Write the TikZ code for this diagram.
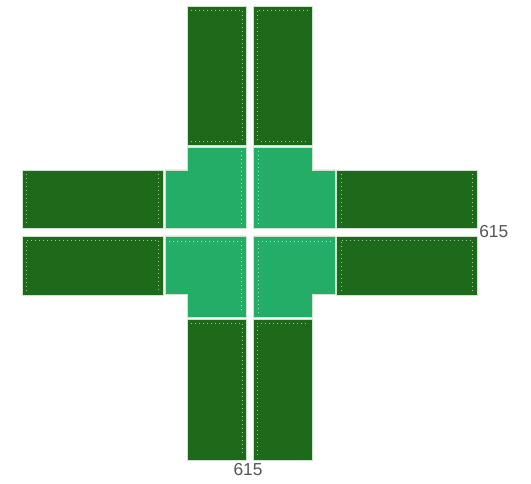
\documentclass[tikz,border=0pt]{standalone}
\usepackage{fontspec}
\setmainfont{Liberation Sans}
\usetikzlibrary{positioning}
\definecolor{LaneDark}{HTML}{1E6A1B}
\definecolor{LaneLight}{HTML}{24AD67}
\definecolor{LaneEdge}{HTML}{CFE3CF}
\definecolor{DimGrey}{HTML}{555555}

\begin{document}
\begin{tikzpicture}[
  x=0.75pt, y=-0.75pt,
  lane/.style={fill=#1, draw=LaneEdge, line width=0.6pt},
  lanemark/.style={draw=white, dash pattern=on 0.6pt off 2.4pt, line width=0.6pt, opacity=0.6},
  dim/.style={font=\fontsize{13}{15}\selectfont, color=DimGrey, inner sep=0pt}
]
\useasboundingbox (0,0) rectangle (531,484);

% North arm
\draw[lane=LaneDark] (187,6) rectangle (246,145);
\draw[lane=LaneDark] (253,6) rectangle (312,145);
\draw[lanemark] (191,10) -- (242,10) -- (242,140);
\draw[lanemark] (257,140) -- (257,10) -- (308,10);
\draw[lanemark] (191,141) -- (238,141);
\draw[lanemark] (261,141) -- (308,141);

% South arm
\draw[lane=LaneDark] (187,319) rectangle (246,460);
\draw[lane=LaneDark] (253,319) rectangle (312,460);
\draw[lanemark] (191,323) -- (242,323) -- (242,455);
\draw[lanemark] (257,455) -- (257,323) -- (308,323);

% West arm
\draw[lane=LaneDark] (22,170) rectangle (163,228);
\draw[lane=LaneDark] (22,236) rectangle (163,295);
\draw[lanemark] (26,174) -- (26,224);
\draw[lanemark] (158,174) -- (158,224);
\draw[lanemark] (26,291) -- (26,240) -- (158,240) -- (158,291);

% East arm
\draw[lane=LaneDark] (336,170) rectangle (477,228);
\draw[lane=LaneDark] (336,236) rectangle (477,295);
\draw[lanemark] (341,174) -- (341,224);
\draw[lanemark] (472,174) -- (472,224);
\draw[lanemark] (341,291) -- (341,240) -- (472,240) -- (472,291);

% Junction
\draw[lane=LaneLight] (165,170) -- (187,170) -- (187,147) -- (246,147)
  -- (246,228) -- (165,228) -- cycle;
\draw[lane=LaneLight] (253,147) -- (312,147) -- (312,170) -- (335,170)
  -- (335,228) -- (253,228) -- cycle;
\draw[lane=LaneLight] (165,236) -- (246,236) -- (246,317) -- (187,317)
  -- (187,294) -- (165,294) -- cycle;
\draw[lane=LaneLight] (253,236) -- (335,236) -- (335,294) -- (312,294)
  -- (312,317) -- (253,317) -- cycle;
\draw[lanemark] (241,151) -- (241,224);
\draw[lanemark] (258,151) -- (258,224);
\draw[lanemark] (169,241) -- (241,241) -- (241,313);
\draw[lanemark] (331,241) -- (258,241) -- (258,313);

% Dimensions
\node[dim, anchor=west] (dimE) at (479,232) {615};
\node[dim, anchor=north] (dimS) at (248,463) {615};
\end{tikzpicture}
\end{document}
